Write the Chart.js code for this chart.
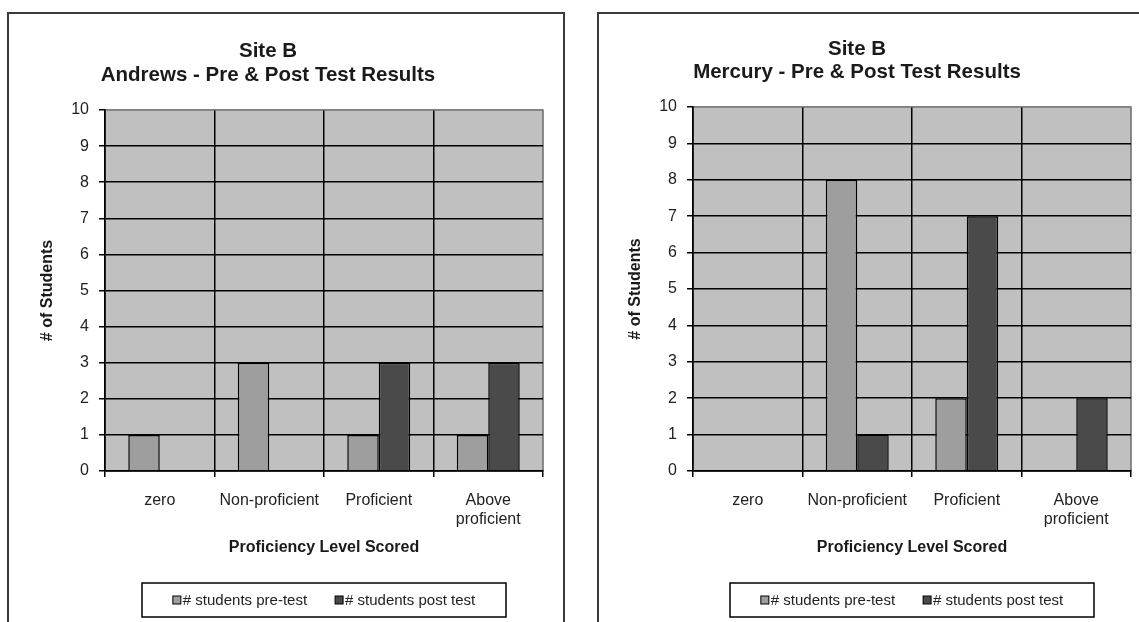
<!DOCTYPE html>
<html>
<head>
<meta charset="utf-8">
<script src="https://cdn.jsdelivr.net/npm/chart.js@4.4.0/dist/chart.umd.min.js"></script>
<style>
  body { margin: 0; background: #fff; width: 1139px; height: 622px; overflow: hidden; position: relative; }
  .panel { position: absolute; top: 12px; height: 700px; border: 2px solid #3a3a3a; box-sizing: border-box; }
  #p1 { left: 7px; width: 558px; }
  #p2 { left: 597px; width: 600px; }
  canvas { position: absolute; top: 0; }
  #c1 { left: 0; }
  #c2 { left: 590px; }
</style>
</head>
<body>
<div class="panel" id="p1"></div>
<div class="panel" id="p2"></div>
<canvas id="c1" width="570" height="622"></canvas>
<canvas id="c2" width="549" height="622"></canvas>
<script>
const levels = ['zero', 'Non-proficient', 'Proficient', ['Above', 'proficient']];
const seriesNames = ['# students pre-test', '# students post test'];
const yMin = 0, yMax = 10, yStep = 1;

const andrewsPre = [1, 3, 1, 1];
const andrewsPost = [0, 0, 3, 3];
const mercuryPre = [0, 8, 2, 0];
const mercuryPost = [0, 1, 7, 2];

const FONT = 'Arial, "Liberation Sans", sans-serif';
const preColor = '#9e9e9e';
const postColor = '#4a4a4a';

// grey plot area + two line title + boxed legend
const panelDeco = {
  id: 'panelDeco',
  beforeDraw(chart) {
    const a = chart.chartArea, ctx = chart.ctx;
    ctx.save();
    ctx.fillStyle = '#c0c0c0';
    ctx.fillRect(a.left, a.top, a.right - a.left, a.bottom - a.top);
    ctx.strokeStyle = '#808080';
    ctx.lineWidth = 1.5;
    ctx.strokeRect(a.left, a.top, a.right - a.left, a.bottom - a.top);
    ctx.restore();
  },
  afterDraw(chart, args, opts) {
    const a = chart.chartArea, ctx = chart.ctx;
    ctx.save();
    // title
    ctx.fillStyle = '#1a1a1a';
    ctx.textAlign = 'center';
    ctx.textBaseline = 'alphabetic';
    ctx.font = 'bold 20.5px ' + FONT;
    opts.lines.forEach((t, i) => ctx.fillText(t, opts.titleX, opts.titleY[i]));

    // legend
    const cx = (a.left + a.right) / 2;
    const bw = 364, bh = 34, by = 583;
    ctx.strokeStyle = '#000';
    ctx.lineWidth = 1.5;
    ctx.strokeRect(cx - bw / 2, by, bw, bh);
    ctx.font = '15px ' + FONT;
    const ds = chart.data.datasets;
    const widths = ds.map(d => ctx.measureText(d.label).width);
    const total = widths.reduce((s, w) => s + w + 10, 0) + 28;
    let x = cx - total / 2;
    const my = by + bh / 2;
    ctx.textAlign = 'left';
    ctx.textBaseline = 'middle';
    ds.forEach((d, i) => {
      ctx.fillStyle = d.backgroundColor;
      ctx.fillRect(x, my - 4, 8, 8);
      ctx.lineWidth = 1;
      ctx.strokeRect(x, my - 4, 8, 8);
      ctx.fillStyle = '#222';
      ctx.fillText(d.label, x + 10, my + 1);
      x += 10 + widths[i] + 28;
    });
    ctx.restore();
  }
};

function makeChart(id, lines, pre, post, box) {
  return new Chart(document.getElementById(id), {
    type: 'bar',
    data: {
      labels: levels,
      datasets: [
        { label: seriesNames[0], data: pre, backgroundColor: preColor, borderColor: '#000', borderWidth: 1.5 },
        { label: seriesNames[1], data: post, backgroundColor: postColor, borderColor: '#000', borderWidth: 1.5 }
      ]
    },
    options: {
      responsive: false,
      animation: false,
      layout: { padding: { left: box.padLeft, right: box.padRight, top: box.top, bottom: 0 } },
      datasets: { bar: { barPercentage: 1, categoryPercentage: 0.575 } },
      plugins: {
        legend: { display: false },
        tooltip: { enabled: false },
        panelDeco: { lines: lines, titleX: box.titleX, titleY: box.titleY }
      },
      scales: {
        x: {
          grid: {
            offset: true,
            color: c => c.type === 'tick' ? '#000' : '#808080',
            lineWidth: 1.5,
            tickLength: 6,
            tickColor: '#000',
            tickWidth: 1.5
          },
          border: { color: '#000', width: 1.5 },
          ticks: { font: { size: 16, family: FONT }, color: '#222', padding: 14, maxRotation: 0, autoSkip: false },
          title: {
            display: true,
            text: 'Proficiency Level Scored',
            font: { size: 16, weight: 'bold', family: FONT },
            color: '#1a1a1a',
            padding: { top: 0, bottom: 65 }
          },
          afterFit: s => { s.height = 622 - box.bottom; }
        },
        y: {
          min: yMin,
          max: yMax,
          ticks: { stepSize: yStep, font: { size: 16, family: FONT }, color: '#222', padding: 10 },
          grid: {
            color: c => c.tick && c.tick.value === yMax ? '#808080' : '#000',
            lineWidth: 1.5,
            tickLength: 6,
            tickColor: '#000',
            tickWidth: 1.5
          },
          border: { color: '#000', width: 1.5 },
          title: {
            display: true,
            text: '# of Students',
            font: { size: 16, weight: 'bold', family: FONT },
            color: '#1a1a1a',
            padding: { top: 8, bottom: 0 }
          },
          afterFit: s => { s.width = box.left - box.padLeft; }
        }
      }
    },
    plugins: [panelDeco]
  });
}

makeChart('c1', ['Site B', 'Andrews - Pre & Post Test Results'], andrewsPre, andrewsPost,
  { padLeft: 30, padRight: 27, left: 105, top: 110, bottom: 471, titleX: 268, titleY: [57, 81] });

makeChart('c2', ['Site B', 'Mercury - Pre & Post Test Results'], mercuryPre, mercuryPost,
  { padLeft: 28, padRight: 8, left: 103, top: 107, bottom: 471, titleX: 267, titleY: [55, 78] });
</script>
</body>
</html>
